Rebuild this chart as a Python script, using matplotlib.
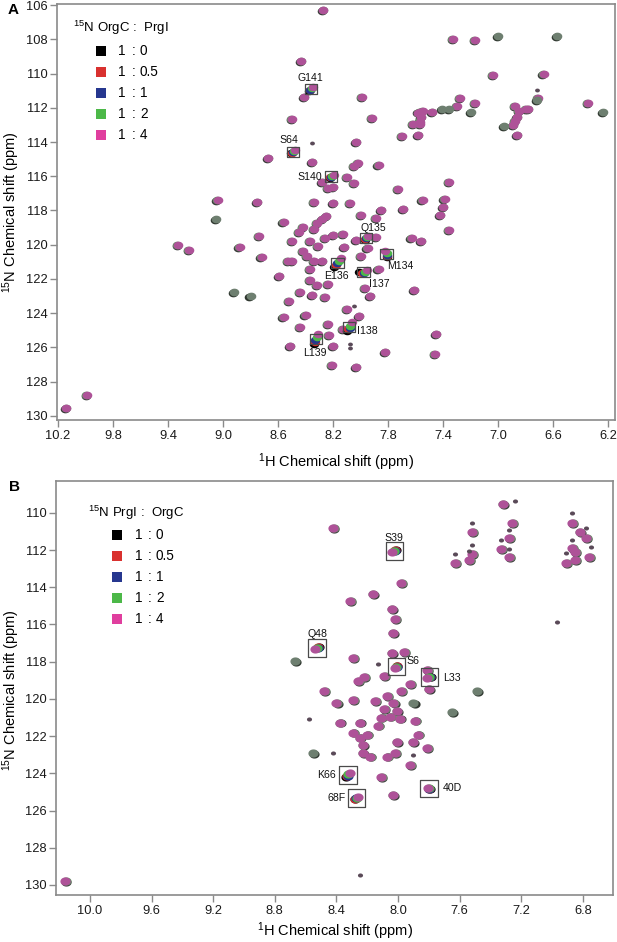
import numpy as np
import matplotlib
matplotlib.use('Agg')
import matplotlib.pyplot as plt
from matplotlib.transforms import offset_copy

plt.rcParams['font.family'] = ['Liberation Sans', 'DejaVu Sans']
plt.rcParams['mathtext.fontset'] = 'custom'
plt.rcParams['mathtext.rm'] = 'Liberation Sans'
plt.rcParams['mathtext.it'] = 'Liberation Sans:italic'

# titration ratios and their legend colours
ratios = ['0', '0.5', '1', '2', '4']
ratio_colors = ['#000000', '#d9312f', '#26378f', '#4cb848', '#e03e9e']

# ---------------- panel A data (1H ppm, 15N ppm) ----------------
a_h = [8.27, 7.33, 7.17, 8.43, 8.41, 7.99, 8.50, 7.92, 7.70, 7.58, 7.57, 7.57, 7.48,
       8.03, 8.67, 8.35, 8.05, 8.02, 7.87, 8.28, 8.24, 8.20, 8.10, 8.05, 7.73, 7.36,
       9.04, 8.75, 8.34, 8.20, 8.08, 7.85, 7.69, 7.55, 7.39, 7.40, 7.42,
       8.56, 8.45, 8.42, 8.34, 8.32, 8.28, 8.25, 8.00, 7.89, 8.74, 9.33, 9.25, 8.88,
       8.50, 8.37, 8.26, 8.20, 8.13, 7.89, 8.03, 7.95, 7.63, 7.56, 7.36,
       8.42, 8.31, 8.12, 8.72, 8.53, 8.50, 8.39, 8.34, 8.28, 8.00, 7.87, 8.59,
       8.37, 8.37, 8.32, 8.24, 7.97, 7.93, 7.61, 8.35, 8.26, 8.52, 8.44, 8.10,
       8.01, 8.56, 8.40, 8.24, 8.44, 8.13, 8.23, 8.51, 8.20, 7.82, 7.45, 7.46,
       8.21, 8.03, 9.99, 10.14,
       7.04, 6.67, 7.28, 7.17, 7.30, 6.71, 6.35, 6.88, 6.85, 6.80, 6.78, 6.86,
       6.88, 6.89, 6.86, 7.55, 7.58, 7.56, 7.57, 7.62]
a_n = [106.3, 108.0, 108.05, 109.27, 111.38, 111.38, 112.67, 112.61, 113.66, 113.6, 112.26, 112.8, 112.26,
       114.01, 114.95, 115.18, 115.42, 115.24, 115.36, 116.35, 116.7, 116.64, 116.06, 116.41, 116.76, 116.35,
       117.4, 117.52, 117.52, 117.58, 117.58, 117.99, 117.93, 117.4, 117.35, 117.81, 118.28,
       118.69, 119.27, 118.98, 119.1, 118.75, 118.51, 118.34, 118.28, 118.46, 119.51, 120.04, 120.33, 120.15,
       119.8, 119.8, 119.63, 119.45, 119.39, 119.57, 119.74, 120.21, 119.63, 119.8, 119.16,
       120.39, 120.09, 120.15, 120.74, 120.97, 120.97, 120.68, 120.97, 120.97, 120.68, 121.44, 121.85,
       121.44, 122.08, 122.37, 122.32, 122.55, 123.02, 122.67, 122.96, 123.08, 123.31, 122.78, 123.78,
       124.19, 124.25, 124.13, 124.65, 124.83, 124.95, 125.3, 125.94, 125.94, 126.29, 125.24, 126.41,
       127.05, 127.17, 128.81, 129.57,
       110.09, 110.04, 111.44, 111.73, 111.91, 111.44, 111.73, 111.91, 112.2, 112.08, 112.08, 112.55,
       112.78, 113.02, 113.6, 112.2, 112.3, 112.55, 112.96, 112.96]
# peaks without a visible 1:4 signal (grey/green)
a_grey_h = [7.00, 6.57, 9.05, 8.92, 8.80, 7.41, 7.36, 7.20, 6.72, 6.24, 6.96]
a_grey_n = [107.81, 107.81, 118.51, 122.78, 123.02, 112.08, 112.08, 112.26, 111.55, 112.26, 113.08]
# weak peaks
a_small_h = [8.05, 8.08, 8.08, 8.35, 6.72]
a_small_n = [123.6, 125.8, 126.06, 114.07, 110.97]

a_labels = ['G141', 'S64', 'S140', 'Q135', 'M134', 'E136', 'I137', 'I138', 'L139']
a_lab_h = [[8.375, 8.37, 8.365, 8.355, 8.345],
           [8.505, 8.50, 8.495, 8.485, 8.475],
           [8.225, 8.22, 8.215, 8.21, 8.195],
           [7.97, 7.965, 7.96, 7.955, 7.945],
           [7.81, 7.81, 7.81, 7.81, 7.82],
           [8.19, 8.18, 8.17, 8.16, 8.14],
           [8.01, 7.99, 7.975, 7.965, 7.955],
           [8.10, 8.09, 8.08, 8.075, 8.065],
           [8.34, 8.335, 8.33, 8.32, 8.31]]
a_lab_n = [[111.0, 110.97, 110.93, 110.87, 110.8],
           [114.65, 114.62, 114.6, 114.55, 114.48],
           [116.1, 116.07, 116.03, 115.98, 115.9],
           [119.7, 119.67, 119.63, 119.58, 119.5],
           [120.7, 120.65, 120.6, 120.5, 120.35],
           [121.3, 121.2, 121.1, 120.97, 120.75],
           [121.6, 121.65, 121.65, 121.6, 121.5],
           [125.05, 124.95, 124.85, 124.75, 124.55],
           [125.8, 125.7, 125.55, 125.4, 125.2]]

# ---------------- panel B data ----------------
b_h = [7.32, 8.42, 7.52, 7.26, 7.28, 7.33, 7.28, 7.63, 7.54, 7.52, 6.87, 6.82, 6.78, 6.87,
       6.85, 6.85, 6.91, 6.76, 7.98, 8.165, 8.31, 8.04, 8.02, 8.035, 8.29, 8.04, 7.96, 7.81,
       7.80, 8.26, 8.22, 8.09, 7.92, 8.48, 7.98, 8.40, 8.29, 8.15, 8.07, 8.03, 8.09, 8.01,
       8.38, 8.25, 8.13, 8.11, 8.05, 7.99, 7.89, 8.29, 8.25, 8.20, 8.01, 7.87, 8.23, 7.905,
       7.81, 8.23, 8.18, 8.07, 8.02, 7.92, 8.11, 8.035, 10.16]
b_n = [109.53, 110.82, 111.04, 110.55, 111.36, 111.96, 112.38, 112.7, 112.54, 112.22, 110.55, 111.04, 111.36, 111.9,
       112.11, 112.54, 112.7, 112.38, 113.78, 114.38, 114.75, 115.18, 115.71, 116.47, 117.82, 117.55, 117.49, 118.46,
       119.48, 119.05, 118.84, 118.79, 119.22, 119.59, 119.59, 120.23, 120.07, 120.12, 119.86, 120.23, 120.55, 120.66,
       121.29, 121.29, 121.45, 121.02, 120.97, 121.08, 121.18, 121.83, 122.1, 121.94, 122.32, 121.94, 122.48, 122.32,
       122.64, 122.91, 123.12, 123.12, 122.91, 123.56, 124.21, 125.18, 129.8]
b_grey_h = [8.67, 8.55, 7.65, 7.90, 7.49]
b_grey_n = [117.98, 122.91, 120.72, 120.23, 119.59]
b_small_h = [7.24, 7.52, 7.28, 7.33, 7.28, 7.63, 7.54, 7.52, 6.87, 6.78, 6.87, 6.91, 6.75,
             6.97, 8.13, 8.42, 7.90, 8.25, 8.58]
b_small_n = [109.37, 110.55, 110.93, 111.47, 111.95, 112.22, 112.06, 111.74, 110.02, 110.82, 111.47, 112.17, 111.85,
             115.88, 118.13, 122.91, 123.03, 129.49, 121.1]

b_labels = ['S39', 'Q48', 'S6', 'L33', 'K66', '40D', '68F']
b_lab_h = [[8.015, 8.017, 8.02, 8.027, 8.04],
           [8.515, 8.518, 8.522, 8.528, 8.54],
           [8.005, 8.007, 8.01, 8.013, 8.02],
           [7.785, 7.79, 7.795, 7.80, 7.815],
           [8.335, 8.332, 8.328, 8.322, 8.31],
           [7.795, 7.796, 7.798, 7.80, 7.805],
           [8.28, 8.277, 8.272, 8.267, 8.26]]
b_lab_n = [[112.0, 112.01, 112.03, 112.06, 112.1],
           [117.22, 117.23, 117.25, 117.28, 117.33],
           [118.22, 118.24, 118.26, 118.28, 118.32],
           [118.8, 118.81, 118.82, 118.85, 118.88],
           [124.2, 124.16, 124.12, 124.06, 123.97],
           [124.85, 124.84, 124.82, 124.8, 124.77],
           [125.38, 125.36, 125.33, 125.3, 125.26]]

# label placement (pixels from box centre, alignment)
a_lab_pos = {'G141': (0, 11, 'center'), 'S64': (-4, 12, 'center'), 'S140': (-9, 0, 'right'),
             'Q135': (7, 10, 'center'), 'M134': (14, -12, 'center'), 'E136': (-1, -13, 'center'),
             'I137': (16, -12, 'center'), 'I138': (8, -4, 'left'), 'L139': (-1, -14, 'center')}
b_lab_pos = {'S39': (0, 13, 'center'), 'Q48': (0, 14, 'center'), 'S6': (10, 6, 'left'),
             'L33': (14, -1, 'left'), 'K66': (-12, 0, 'right'), '40D': (14, 0, 'left'),
             '68F': (-11, 0, 'right')}

W, H = 617, 942
fig = plt.figure(figsize=(W / 100, H / 100), dpi=100)

t = np.linspace(0, 2 * np.pi, 41)
ell = np.column_stack([np.cos(t), 0.8 * np.sin(t)])
rect_a = np.array([[-1, -0.85], [1, -0.85], [1, 0.85], [-1, 0.85], [-1, -0.85]])

peak_col = '#ae5298'
grey_col = '#6e7f70'
spine_col = '#8a8a8a'


def add_axes(l, t_, r, b):
    return fig.add_axes([l / W, 1 - b / H, (r - l) / W, (b - t_) / H])


def style(ax, xticks, yticks, xlim, ylim):
    ax.set_xlim(*xlim)
    ax.set_ylim(*ylim)
    ax.set_xticks(xticks)
    ax.set_xticklabels(['%.1f' % v for v in xticks])
    ax.set_yticks(yticks)
    for s in ax.spines.values():
        s.set_color(spine_col)
        s.set_linewidth(1.2)
    ax.tick_params(direction='out', length=5, width=1, color=spine_col,
                   labelsize=9.3, labelcolor='#1a1a1a', pad=2)


def draw_peaks(ax, h, n, grey_h, grey_n, small_h, small_n, size, side):
    tr_k = offset_copy(ax.transData, fig=fig, x=1.1 * side, y=-0.5, units='dots')
    tr_g = offset_copy(ax.transData, fig=fig, x=0.6 * side, y=0.3, units='dots')
    ax.scatter(h, n, s=size, marker=ell, c='#3a3a3a', lw=0, transform=tr_k, zorder=2)
    ax.scatter(h, n, s=size, marker=ell, c='#6a8a6a', lw=0, transform=tr_g, zorder=2.5)
    ax.scatter(h, n, s=size, marker=ell, c=peak_col, lw=0, zorder=3)
    ax.scatter(grey_h, grey_n, s=size, marker=ell, c='#303830', lw=0, transform=tr_k, zorder=2)
    ax.scatter(grey_h, grey_n, s=size, marker=ell, c=grey_col, lw=0, zorder=3)
    ax.scatter(small_h, small_n, s=size * 0.25, marker=ell, c='#5a4a58', lw=0, zorder=3)


def draw_labeled(ax, names, lh, ln, pos, size, box_marker, box_size, fs):
    for name, hs, ns in zip(names, lh, ln):
        for i, (x, y) in enumerate(zip(hs, ns)):
            c = peak_col if i == 4 else ratio_colors[i]
            ax.scatter([x], [y], s=size, marker=ell, c=c, lw=0, zorder=4 + i * 0.1)
        cx, cy = np.mean(hs), np.mean(ns)
        ax.scatter([cx], [cy], s=box_size, marker=box_marker, facecolors='none',
                   edgecolors='#4a4a4a', linewidths=0.9, zorder=5)
        dx, dy, ha = pos[name]
        ax.annotate(name, (cx, cy), xytext=(dx, dy), textcoords='offset pixels',
                    ha=ha, va='center', fontsize=fs, color='#111111', zorder=6)


def legend(x_title, y_title, x_sq, y0, x_one, x_col, x_val, title):
    fig.text(x_title / W, 1 - y_title / H, title, ha='left', va='center', fontsize=9.5)
    for i, (r, c) in enumerate(zip(ratios, ratio_colors)):
        y = y0 + 21 * i
        fig.patches.append(plt.Rectangle(((x_sq - 5) / W, 1 - (y + 5) / H), 10 / W, 10 / H,
                                         transform=fig.transFigure, color=c, lw=0))
        fig.text(x_one / W, 1 - y / H, '1', ha='left', va='center', fontsize=9.8)
        fig.text(x_col / W, 1 - y / H, ':', ha='center', va='center', fontsize=9.8)
        fig.text(x_val / W, 1 - y / H, r, ha='left', va='center', fontsize=9.8)


# ---------------- panel A ----------------
axa = add_axes(57, 4, 615, 420)
style(axa, np.arange(10.2, 6.0, -0.4), np.arange(106, 131, 2), (10.207, 6.151), (130.25, 105.93))
draw_peaks(axa, a_h, a_n, a_grey_h, a_grey_n, a_small_h, a_small_n, 48, -1)
draw_labeled(axa, a_labels, a_lab_h, a_lab_n, a_lab_pos, 46, rect_a, 76, 7.6)

# ---------------- panel B ----------------
axb = add_axes(56, 481, 613, 895)
style(axb, np.arange(10.0, 6.6, -0.4), np.arange(110, 131, 2), (10.22, 6.605), (130.54, 108.29))
draw_peaks(axb, b_h, b_n, b_grey_h, b_grey_n, b_small_h, b_small_n, 54, 1)
draw_labeled(axb, b_labels, b_lab_h, b_lab_n, b_lab_pos, 54, 's', 158, 7.6)

# axis labels and panel letters
fig.text(336 / W, 1 - 462 / H, r'$^{1}$H Chemical shift (ppm)', ha='center', va='center', fontsize=10.5)
fig.text(335 / W, 1 - 931 / H, r'$^{1}$H Chemical shift (ppm)', ha='center', va='center', fontsize=10.5)
fig.text(11 / W, 1 - 212 / H, r'$^{15}$N Chemical shift (ppm)', ha='center', va='center',
         rotation=90, fontsize=10.5)
fig.text(11 / W, 1 - 690 / H, r'$^{15}$N Chemical shift (ppm)', ha='center', va='center',
         rotation=90, fontsize=10.5)
fig.text(13 / W, 1 - 10 / H, 'A', ha='center', va='center', fontsize=11, fontweight='bold')
fig.text(14 / W, 1 - 487 / H, 'B', ha='center', va='center', fontsize=11, fontweight='bold')

legend(73, 28, 101, 51, 118, 134, 140, r'$^{15}$N OrgC :  PrgI')
legend(88, 513, 116.5, 535, 135, 150, 156, r'$^{15}$N PrgI :  OrgC')

fig.savefig('out.png', dpi=100)
